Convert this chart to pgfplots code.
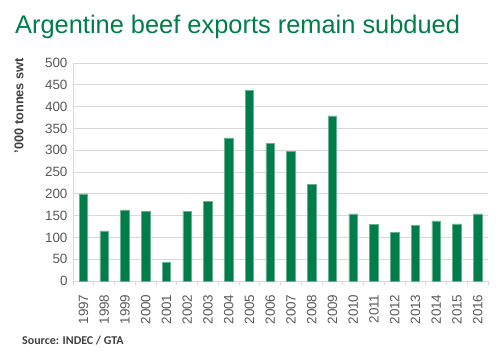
\documentclass[border=0pt]{standalone}
\usepackage{pgfplots}
\pgfplotsset{compat=1.18}
\usepackage{fontspec}
\setmainfont{Liberation Sans}
\newfontfamily\carlito{Carlito}
\definecolor{bargreen}{RGB}{0,125,72}
\definecolor{titlegreen}{RGB}{0,125,72}
\definecolor{gridgray}{RGB}{217,217,217}
\definecolor{ticktext}{RGB}{89,89,89}
\definecolor{srcgray}{RGB}{64,64,64}
\begin{document}
\begin{tikzpicture}[x=1bp,y=1bp]
\path (0,0) rectangle (500,356);
\node[anchor=base west, inner sep=0pt, text=titlegreen, font=\fontsize{25.5}{30}\selectfont] at (15,323) {Argentine beef exports remain subdued};
\node[anchor=base west, inner sep=0pt, text=srcgray, font=\carlito\bfseries\fontsize{12}{14}\selectfont] at (22,12) {Source: INDEC / GTA};
\node[rotate=90, anchor=east, inner sep=0pt, text=srcgray, font=\bfseries\fontsize{12.8}{15}\selectfont] at (19,298) {'000 tonnes swt};
\begin{axis}[
  at={(73bp,75bp)}, anchor=south west,
  scale only axis, width=415bp, height=218bp,
  xmin=-0.5, xmax=19.5, ymin=0, ymax=500,
  ytick={0,50,...,500},
  xtick={0,...,19},
  xticklabels={1997,1998,1999,2000,2001,2002,2003,2004,2005,2006,2007,2008,2009,2010,2011,2012,2013,2014,2015,2016},
  x tick label style={yshift=-10bp, rotate=90, anchor=east, font=\fontsize{13.5}{15}\selectfont, text=ticktext},
  y tick label style={font=\fontsize{13.5}{15}\selectfont, text=ticktext},
  /pgf/number format/assume math mode=true,
  major tick length=0pt,
  minor xtick={-0.5,0.5,...,19.5},
  minor tick length=4bp,
  xtick pos=bottom, ytick pos=left,
  tick align=outside,
  minor tick style={gridgray, line width=0.8bp},
  ymajorgrids, major grid style={gridgray, line width=0.8bp},
  axis line style={gridgray, line width=0.8bp},
  axis x line*=bottom, axis y line*=left,
  ybar, bar width=8.7bp,
  yticklabel style={xshift=-2bp},
  clip=false,
]
\addplot[fill=bargreen, draw=bargreen!60!white, line width=0.5bp] coordinates {
(0,200) (1,115) (2,163) (3,159) (4,42) (5,159) (6,183) (7,328) (8,437) (9,316)
(10,297) (11,222) (12,379) (13,154) (14,130) (15,111) (16,127) (17,138) (18,131) (19,154)
};
\end{axis}
\end{tikzpicture}
\end{document}
